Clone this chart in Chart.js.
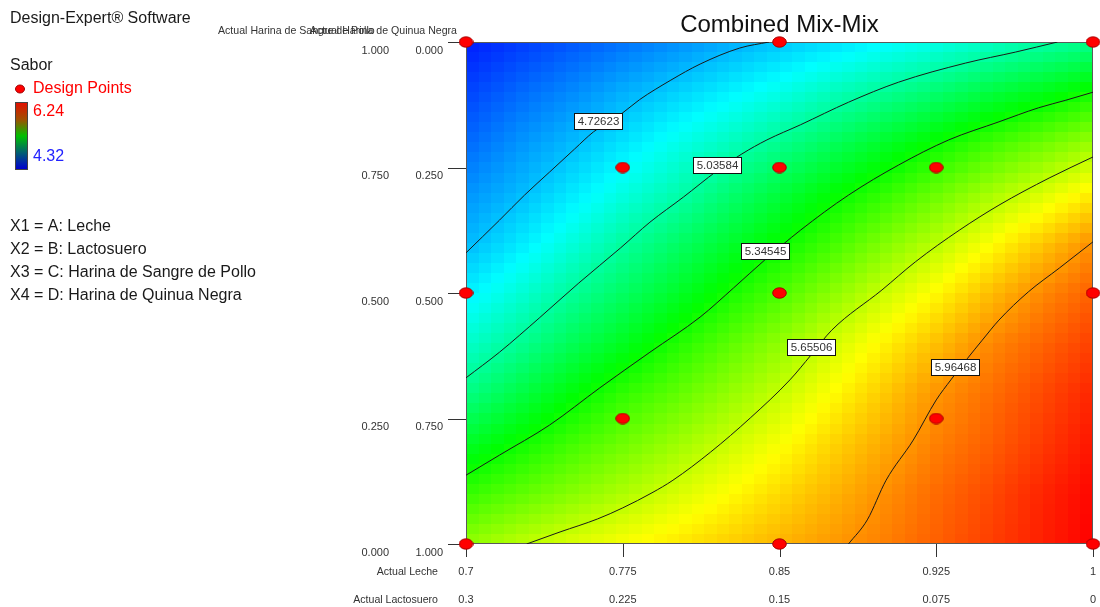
<!DOCTYPE html>
<html><head><meta charset="utf-8">
<script src="https://cdn.jsdelivr.net/npm/chart.js@4.4.0/dist/chart.umd.min.js"></script>
<style>html,body{margin:0;padding:0;background:#fff;}#wrap{position:relative;width:1100px;height:607px;}</style>
</head><body><div id="wrap"><canvas id="c" width="1100" height="607"></canvas></div>
<script>
// ---- data ----
const lecheTicks = [0.7, 0.775, 0.85, 0.925, 1];
const lecheLabels = ['0.7', '0.775', '0.85', '0.925', '1'];
const lactoLabels = ['0.3', '0.225', '0.15', '0.075', '0'];
const sangreTicks = [0, 0.25, 0.5, 0.75, 1];
const sangreLabels = ['0.000', '0.250', '0.500', '0.750', '1.000'];
const quinuaLabels = ['1.000', '0.750', '0.500', '0.250', '0.000'];

const contourLevels = [4.72623, 5.03584, 5.34545, 5.65506, 5.96468];
const contour1 = [[0.700,0.580],[0.716,0.645],[0.728,0.695],[0.740,0.741],[0.752,0.787],[0.761,0.821],[0.775,0.859],[0.783,0.885],[0.798,0.924],[0.812,0.956],[0.831,0.988],[0.845,1.000]];
const contour2 = [[0.700,0.331],[0.716,0.382],[0.735,0.450],[0.754,0.520],[0.774,0.590],[0.788,0.641],[0.804,0.691],[0.820,0.743],[0.832,0.777],[0.844,0.805],[0.860,0.835],[0.883,0.880],[0.907,0.920],[0.939,0.958],[0.963,0.980],[0.983,1.000]];
const contour3 = [[0.700,0.137],[0.716,0.177],[0.740,0.237],[0.764,0.311],[0.788,0.382],[0.812,0.452],[0.828,0.510],[0.843,0.566],[0.860,0.625],[0.883,0.695],[0.907,0.755],[0.931,0.805],[0.955,0.841],[0.974,0.869],[0.987,0.884],[1.000,0.900]];
const contour4 = [[0.729,0.000],[0.745,0.024],[0.763,0.050],[0.775,0.072],[0.789,0.102],[0.799,0.127],[0.817,0.183],[0.836,0.251],[0.855,0.327],[0.865,0.376],[0.875,0.426],[0.899,0.506],[0.915,0.562],[0.936,0.625],[0.955,0.675],[0.979,0.729],[1.000,0.771]];
const contour5 = [[0.883,0.000],[0.892,0.048],[0.901,0.127],[0.914,0.207],[0.925,0.287],[0.932,0.327],[0.940,0.370],[0.947,0.406],[0.955,0.446],[0.969,0.502],[0.984,0.550],[1.000,0.602]];
const labelAnchors = [[0.763,0.843],[0.820,0.755],[0.843,0.584],[0.865,0.392],[0.934,0.353]];

const designX = [0.7, 0.85, 1, 0.775, 0.85, 0.925, 0.7, 0.85, 1, 0.775, 0.925, 0.7, 0.85, 1];
const designY = [1, 1, 1, 0.75, 0.75, 0.75, 0.5, 0.5, 0.5, 0.25, 0.25, 0, 0, 0];

const gridX = [0.7,0.725,0.75,0.775,0.8,0.825,0.85,0.875,0.9,0.925,0.95,0.975,1.0];
const gridY = [1.0,0.9,0.8,0.7,0.6,0.5,0.4,0.3,0.2,0.1,0.0];
const gridZ = [
 [4.38,4.44,4.50,4.56,4.62,4.68,4.74,4.79,4.85,4.90,4.96,5.02,5.07],
 [4.46,4.54,4.61,4.69,4.76,4.83,4.90,4.98,5.05,5.12,5.20,5.27,5.35],
 [4.54,4.63,4.71,4.80,4.89,4.97,5.06,5.15,5.24,5.33,5.42,5.50,5.58],
 [4.63,4.71,4.81,4.91,5.00,5.11,5.21,5.31,5.40,5.50,5.60,5.69,5.79],
 [4.71,4.81,4.92,5.03,5.13,5.23,5.33,5.43,5.54,5.64,5.75,5.86,5.97],
 [4.83,4.93,5.04,5.14,5.24,5.35,5.45,5.56,5.67,5.77,5.88,5.98,6.06],
 [4.95,5.05,5.16,5.26,5.37,5.47,5.57,5.68,5.78,5.88,5.98,6.05,6.12],
 [5.08,5.19,5.30,5.40,5.48,5.57,5.66,5.76,5.86,5.96,6.03,6.10,6.17],
 [5.25,5.34,5.43,5.51,5.59,5.67,5.75,5.84,5.92,6.00,6.06,6.13,6.20],
 [5.41,5.48,5.55,5.62,5.69,5.76,5.83,5.90,5.97,6.04,6.10,6.17,6.23],
 [5.57,5.64,5.70,5.75,5.80,5.85,5.90,5.95,6.00,6.06,6.12,6.18,6.24]
];
const zMin = 4.32, zMax = 6.24;

// ---- helpers ----
const FONT = '"Liberation Sans", Arial, Helvetica, sans-serif';
const colorStops = [[4.32,[0,0,255]],[4.86,[0,255,255]],[5.32,[0,255,0]],[5.76,[255,255,0]],[6.24,[255,0,0]]];
function colorFor(v){
  v = Math.max(zMin, Math.min(zMax, v));
  let k = 0;
  while (k < colorStops.length - 2 && v > colorStops[k+1][0]) k++;
  const [v0, a] = colorStops[k], [v1, b] = colorStops[k+1];
  const f = (v - v0) / (v1 - v0);
  return 'rgb(' + Math.round(a[0]+(b[0]-a[0])*f) + ',' + Math.round(a[1]+(b[1]-a[1])*f) + ',' + Math.round(a[2]+(b[2]-a[2])*f) + ')';
}
function locate(arr, v){
  const n = arr.length; const asc = arr[n-1] > arr[0];
  for (let i = 0; i < n-1; i++){
    const lo = arr[i], hi = arr[i+1];
    if ((asc && v >= lo && v <= hi) || (!asc && v <= lo && v >= hi)) return [i, (v-lo)/(hi-lo)];
  }
  return asc ? (v < arr[0] ? [0,0] : [n-2,1]) : (v > arr[0] ? [0,0] : [n-2,1]);
}
function sample(xv, yv){
  const [i, tx] = locate(gridX, xv); const [j, ty] = locate(gridY, yv);
  const z00 = gridZ[j][i], z01 = gridZ[j][i+1], z10 = gridZ[j+1][i], z11 = gridZ[j+1][i+1];
  return (z00*(1-tx) + z01*tx)*(1-ty) + (z10*(1-tx) + z11*tx)*ty;
}
function makeDot(){
  const c = document.createElement('canvas'); c.width = 15; c.height = 12;
  const g = c.getContext('2d');
  g.beginPath(); g.ellipse(7.5, 6, 6.8, 5.2, 0, 0, Math.PI*2);
  g.fillStyle = '#ff0000'; g.fill(); g.lineWidth = 1; g.strokeStyle = '#a80000'; g.stroke();
  return c;
}
const toPts = arr => arr.map(p => ({x: p[0], y: p[1]}));

const heatPlugin = {
  id: 'heat',
  beforeDatasetsDraw(chart){
    const {ctx, chartArea: a, scales: {x, y}} = chart;
    const NX = 50, NY = 50;
    ctx.save();
    for (let i = 0; i < NX; i++){
      const xv0 = x.min + (x.max-x.min)*i/NX, xv1 = x.min + (x.max-x.min)*(i+1)/NX;
      const px0 = Math.round(x.getPixelForValue(xv0)), px1 = Math.round(x.getPixelForValue(xv1));
      for (let j = 0; j < NY; j++){
        const yv0 = y.min + (y.max-y.min)*j/NY, yv1 = y.min + (y.max-y.min)*(j+1)/NY;
        const py0 = Math.round(y.getPixelForValue(yv0)), py1 = Math.round(y.getPixelForValue(yv1));
        ctx.fillStyle = colorFor(sample((xv0+xv1)/2, (yv0+yv1)/2));
        ctx.fillRect(px0, py1, px1-px0, py0-py1);
      }
    }
    // frame
    ctx.strokeStyle = '#5a5a5a'; ctx.lineWidth = 1;
    ctx.strokeRect(a.left+0.5, a.top+0.5, a.right-a.left-1, a.bottom-a.top-1);
    // tick marks
    ctx.strokeStyle = '#333'; ctx.beginPath();
    sangreTicks.forEach(v => { const py = Math.round(y.getPixelForValue(v)) + 0.5; ctx.moveTo(a.left-18, py); ctx.lineTo(a.left, py); });
    lecheTicks.forEach(v => { const px = Math.round(x.getPixelForValue(v)) + 0.5; ctx.moveTo(px, a.bottom); ctx.lineTo(px, a.bottom+13); });
    ctx.stroke();
    ctx.restore();
  },
  afterDatasetsDraw(chart){
    const {ctx, scales: {x, y}} = chart;
    ctx.save();
    ctx.font = '11.5px ' + FONT; ctx.textAlign = 'center'; ctx.textBaseline = 'middle';
    labelAnchors.forEach((p, k) => {
      const txt = contourLevels[k].toFixed(5);
      const cx = x.getPixelForValue(p[0]), cy = y.getPixelForValue(p[1]);
      const w = Math.ceil(ctx.measureText(txt).width) + 6, h = 16;
      const l = Math.round(cx - w/2) + 0.5, t = Math.round(cy - h/2) + 0.5;
      ctx.fillStyle = '#fff'; ctx.fillRect(l, t, w, h);
      ctx.strokeStyle = '#111'; ctx.lineWidth = 1; ctx.strokeRect(l, t, w, h);
      ctx.fillStyle = '#333'; ctx.fillText(txt, l + w/2, t + h/2 + 0.5);
    });
    ctx.restore();
  },
  afterDraw(chart){
    const {ctx, chartArea: a, scales: {x, y}} = chart;
    ctx.save();
    ctx.textBaseline = 'middle';
    // y tick labels (two columns)
    ctx.font = '11px ' + FONT; ctx.fillStyle = '#333'; ctx.textAlign = 'right';
    sangreTicks.forEach((v, k) => {
      const py = y.getPixelForValue(v) + 8.5;
      ctx.fillText(sangreLabels[k], 389, py);
      ctx.fillText(quinuaLabels[k], 443, py);
    });
    // x tick labels (two rows)
    ctx.textAlign = 'center';
    lecheTicks.forEach((v, k) => {
      const px = x.getPixelForValue(v);
      ctx.fillText(lecheLabels[k], px, 572);
      ctx.fillText(lactoLabels[k], px, 600);
    });
    ctx.textAlign = 'right';
    ctx.font = '10.6px ' + FONT;
    ctx.fillText('Actual Leche', 438, 572);
    ctx.fillText('Actual Lactosuero', 438, 600);
    // y axis titles (overlapping, as in reference)
    ctx.textAlign = 'left';
    ctx.fillText('Actual Harina de Sangre de Pollo', 218, 31);
    ctx.textAlign = 'right';
    ctx.fillText('Actual Harina de Quinua Negra', 457, 31);
    // title
    ctx.textAlign = 'center'; ctx.fillStyle = '#111';
    ctx.font = '24px ' + FONT;
    ctx.fillText('Combined Mix-Mix', (a.left + a.right)/2, 25);
    // left panel
    ctx.textAlign = 'left'; ctx.font = '16px ' + FONT; ctx.fillStyle = '#1a1a1a';
    ctx.fillText('Design-Expert\u00AE Software', 10, 19);
    ctx.fillText('Sabor', 10, 66);
    ctx.fillStyle = '#ff0000';
    ctx.fillText('Design Points', 33, 89);
    ctx.fillText('6.24', 33, 112);
    ctx.fillStyle = '#2222ff';
    ctx.fillText('4.32', 33, 157);
    ctx.beginPath(); ctx.ellipse(20, 89, 4.5, 4, 0, 0, Math.PI*2);
    ctx.fillStyle = '#ff0000'; ctx.fill(); ctx.strokeStyle = '#a00000'; ctx.lineWidth = 1; ctx.stroke();
    const grad = ctx.createLinearGradient(0, 103, 0, 169);
    grad.addColorStop(0, '#e01000'); grad.addColorStop(0.25, '#a05000'); grad.addColorStop(0.5, '#00c000');
    grad.addColorStop(0.75, '#006070'); grad.addColorStop(1, '#0000d0');
    ctx.fillStyle = grad; ctx.fillRect(16, 103, 11, 66);
    ctx.strokeStyle = '#444'; ctx.strokeRect(15.5, 102.5, 12, 67);
    ctx.fillStyle = '#1a1a1a';
    ctx.fillText('X1 = A: Leche', 10, 227);
    ctx.fillText('X2 = B: Lactosuero', 10, 250);
    ctx.fillText('X3 = C: Harina de Sangre de Pollo', 10, 273);
    ctx.fillText('X4 = D: Harina de Quinua Negra', 10, 296);
    ctx.restore();
  }
};

const contourSets = [contour1, contour2, contour3, contour4, contour5].map((c, k) => ({
  label: 'Sabor ' + contourLevels[k],
  data: toPts(c), showLine: true, borderColor: '#1a1a1a', borderWidth: 1,
  pointRadius: 0, cubicInterpolationMode: 'monotone', fill: false, order: 2
}));

new Chart(document.getElementById('c'), {
  type: 'scatter',
  data: {
    datasets: [
      ...contourSets,
      { label: 'Design Points', data: designX.map((v, i) => ({x: v, y: designY[i]})),
        pointStyle: makeDot(), pointRadius: 6, clip: false, order: 0 }
    ]
  },
  options: {
    responsive: false, animation: false, devicePixelRatio: 1,
    layout: { padding: { left: 466, right: 6, top: 42, bottom: 63 } },
    scales: {
      x: { type: 'linear', min: 0.7, max: 1, display: false },
      y: { type: 'linear', min: 0, max: 1, display: false }
    },
    plugins: { legend: { display: false }, tooltip: { enabled: false } },
    events: []
  },
  plugins: [heatPlugin]
});
</script>
</body></html>
